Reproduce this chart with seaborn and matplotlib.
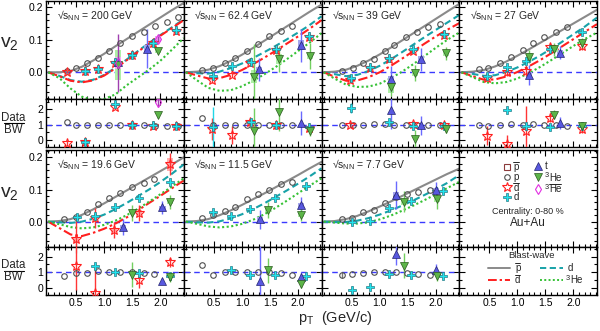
import numpy as np
import matplotlib
matplotlib.use("Agg")
import matplotlib.pyplot as plt
import seaborn as sns
from matplotlib.lines import Line2D
from matplotlib.patches import Rectangle
from matplotlib.ticker import MultipleLocator, FixedLocator, FormatStrFormatter

nan = float("nan")

# ------------------------------------------------------------------ data
ENERGIES = ["200", "62.4", "39", "27", "19.6", "11.5", "7.7"]
BW_PT = [0, 0.2, 0.4, 0.6, 0.8, 1.0, 1.2, 1.4, 1.6, 1.8, 2.0, 2.2, 2.42]

# --- 200 GeV
P_PT_200 = [0.34, 0.50, 0.69, 0.89, 1.09, 1.29, 1.50, 1.71, 1.91, 2.12, 2.32]
P_V2_200 = [0.003, 0.013, 0.027, 0.043, 0.064, 0.089, 0.110, 0.125, 0.143, 0.156, 0.169]
P_R_200 = [1.2, 0.98, 1.0, 1.0, 1.0, 1.0, 0.98, 0.96, 0.93, 0.92, 0.92]
DB_PT_200 = [0.34, 0.65, 0.89, 1.20, 1.50, 1.87, 2.28]
DB_V2_200 = [0.002, 0.003, 0.010, 0.030, 0.053, 0.089, 0.128]
DB_E_200 = [0.004, 0.004, 0.004, 0.005, 0.005, 0.006, 0.008]
DB_R_200 = [-0.22, -0.16, nan, 2.15, 0.98, 0.93, 0.92]
DB_RE_200 = [0.2, 0.1, nan, 0.15, 0.06, 0.06, 0.06]
D_PT_200 = [0.65, 0.89, 1.20, 1.50, 1.87, 2.28]
D_V2_200 = [0.004, 0.011, 0.032, 0.054, 0.090, 0.130]
D_E_200 = [0.003, 0.003, 0.003, 0.003, 0.004, 0.005]
D_R_200 = [-0.14, nan, 2.35, 1.0, 0.95, 0.94]
D_RE_200 = [0.1, nan, 0.12, 0.05, 0.05, 0.05]
T_PT_200 = [1.24, 1.76]
T_V2_200 = [0.033, 0.072]
T_E_200 = [0.015, 0.06]
T_S_200 = [0.015, 0.012]
T_R_200 = [nan, nan]
HE_PT_200 = [1.24, 1.96]
HE_V2_200 = [0.022, 0.066]
HE_E_200 = [0.03, 0.008]
HE_S_200 = [0.045, 0.006]
HE_R_200 = [nan, 1.6]
HE_RE_200 = [nan, 0.2]
HB_PT_200 = [1.24, 1.96]
HB_V2_200 = [0.028, 0.102]
HB_E_200 = [0.09, 0.008]
HB_S_200 = [0.018, 0.008]
HB_R_200 = [nan, 2.5]
HB_RE_200 = [nan, 0.35]
BW_P_200 = [0, 0.0, 0.004, 0.017, 0.036, 0.057, 0.08, 0.102, 0.124, 0.146, 0.168, 0.19, 0.213]
BW_D_200 = [0, -0.011, -0.024, -0.029, -0.023, -0.008, 0.014, 0.039, 0.065, 0.09, 0.114, 0.137, 0.163]
BW_DB_200 = [0, -0.012, -0.026, -0.031, -0.025, -0.01, 0.012, 0.037, 0.063, 0.088, 0.112, 0.135, 0.16]
BW_HE_200 = [0, -0.018, -0.05, -0.075, -0.085, -0.082, -0.068, -0.04, -0.016, 0.008, 0.035, 0.068, 0.105]

# --- 62.4 GeV
P_PT_62 = [0.29, 0.48, 0.69, 0.88, 1.09, 1.28, 1.49, 1.69, 1.89]
P_V2_62 = [0.007, 0.013, 0.027, 0.045, 0.064, 0.088, 0.110, 0.128, 0.143]
P_R_62 = [1.44, 1.0, 1.0, 1.0, 1.0, 1.0, 1.0, 1.0, 0.99]
DB_PT_62 = [0.47, 0.82, 1.15, 1.60, 2.19]
DB_V2_62 = [-0.024, -0.008, 0.030, 0.068, 0.108]
DB_E_62 = [0.01, 0.008, 0.006, 0.006, 0.008]
DB_R_62 = [0.72, 0.33, 1.15, 0.95, 0.75]
DB_RE_62 = [0.7, 0.6, 0.2, 0.1, 0.15]
D_PT_62 = [0.49, 0.82, 1.16, 1.60, 2.19]
D_V2_62 = [-0.011, 0.019, 0.032, 0.070, 0.110]
D_E_62 = [0.008, 0.005, 0.005, 0.005, 0.006]
D_R_62 = [0.82, nan, 1.2, 0.95, 0.85]
D_RE_62 = [1.3, nan, 0.15, 0.08, 0.1]
T_PT_62 = [1.30, 2.06]
T_V2_62 = [0.009, 0.083]
T_E_62 = [0.035, 0.05]
T_S_62 = [0.008, 0.015]
T_R_62 = [nan, 1.1]
T_RE_62 = [nan, 0.8]
HE_PT_62 = [1.22, 1.66, 2.22]
HE_V2_62 = [-0.013, 0.040, 0.050]
HE_E_62 = [0.1, 0.04, 0.04]
HE_S_62 = [0.02, 0.015, 0.01]
HE_R_62 = [0.6, 1.8, 0.57]
HE_RE_62 = [1.5, 1.2, 0.3]
BW_P_62 = [0, 0.002, 0.008, 0.019, 0.035, 0.054, 0.075, 0.097, 0.119, 0.141, 0.163, 0.185, 0.208]
BW_D_62 = [0, -0.003, -0.004, 0.002, 0.013, 0.027, 0.044, 0.062, 0.081, 0.101, 0.122, 0.144, 0.172]
BW_DB_62 = [0, -0.01, -0.019, -0.018, -0.008, 0.007, 0.025, 0.045, 0.066, 0.088, 0.11, 0.133, 0.16]
BW_HE_62 = [0, -0.025, -0.048, -0.057, -0.055, -0.043, -0.026, -0.006, 0.016, 0.04, 0.065, 0.09, 0.12]

# --- 39 GeV
P_PT_39 = [0.32, 0.52, 0.70, 0.89, 1.09, 1.26, 1.47, 1.67, 1.87, 2.07]
P_V2_39 = [0.005, 0.012, 0.027, 0.042, 0.064, 0.085, 0.107, 0.123, 0.139, 0.149]
P_R_39 = [1.0, 1.0, 1.0, 1.03, 1.03, 1.0, 1.0, 1.0, 0.98, 0.97]
DB_PT_39 = [0.47, 0.82, 1.16, 1.59, 2.14]
DB_V2_39 = [-0.024, 0.012, 0.040, 0.066, 0.114]
DB_E_39 = [0.008, 0.006, 0.006, 0.006, 0.008]
DB_R_39 = [1.0, nan, nan, 1.06, 0.95]
DB_RE_39 = [0.15, nan, nan, 0.1, 0.1]
D_PT_39 = [0.48, 0.83, 1.16, 1.59, 2.14]
D_V2_39 = [-0.019, 0.015, 0.043, 0.070, 0.118]
D_E_39 = [0.006, 0.004, 0.004, 0.004, 0.006]
D_R_39 = [2.09, nan, 1.15, 0.92, 0.88]
D_RE_39 = [0.35, nan, 0.1, 0.06, 0.08]
T_PT_39 = [1.20, 1.73]
T_V2_39 = [-0.022, 0.040]
T_E_39 = [0.04, 0.035]
T_S_39 = [0.01, 0.01]
T_R_39 = [1.92, 0.95]
T_RE_39 = [1.2, 0.6]
HE_PT_39 = [1.20, 1.63, 2.18]
HE_V2_39 = [-0.044, -0.002, 0.058]
HE_E_39 = [0.03, 0.025, 0.02]
HE_S_39 = [0.02, 0.008, 0.008]
HE_R_39 = [nan, 0.07, 0.72]
HE_RE_39 = [nan, 0.6, 0.3]
BW_P_39 = [0, 0.002, 0.008, 0.02, 0.036, 0.055, 0.076, 0.098, 0.12, 0.142, 0.164, 0.186, 0.21]
BW_D_39 = [0, -0.006, -0.012, -0.008, 0.004, 0.02, 0.04, 0.062, 0.085, 0.108, 0.13, 0.152, 0.176]
BW_DB_39 = [0, -0.014, -0.026, -0.025, -0.015, 0.0, 0.02, 0.042, 0.065, 0.088, 0.11, 0.13, 0.151]
BW_HE_39 = [0, -0.02, -0.038, -0.045, -0.044, -0.035, -0.018, 0.002, 0.025, 0.05, 0.075, 0.099, 0.122]

# --- 27 GeV
P_PT_27 = [0.31, 0.48, 0.69, 0.88, 1.09, 1.28, 1.48, 1.69, 1.88]
P_V2_27 = [0.010, 0.012, 0.030, 0.048, 0.068, 0.090, 0.107, 0.123, 0.138]
P_R_27 = [1.0, 0.92, 1.0, 1.03, 1.0, 1.03, 1.0, 1.0, 0.94]
DB_PT_27 = [0.46, 0.81, 1.15, 1.58, 2.16]
DB_V2_27 = [-0.018, 0.002, 0.004, 0.079, 0.080]
DB_E_27 = [0.01, 0.012, 0.015, 0.01, 0.012]
DB_R_27 = [0.28, -0.26, 0.61, 1.44, 0.72]
DB_RE_27 = [0.6, 0.6, 1.6, 0.3, 0.3]
D_PT_27 = [0.46, 0.81, 1.15, 1.58, 2.16]
D_V2_27 = [-0.011, 0.017, 0.036, 0.071, 0.123]
D_E_27 = [0.006, 0.006, 0.006, 0.006, 0.008]
D_R_27 = [nan, 1.96, 0.93, 0.87, 0.92]
D_RE_27 = [nan, 0.1, 0.1, 0.08, 0.08]
T_PT_27 = [1.20, 1.76]
T_V2_27 = [-0.008, 0.060]
T_E_27 = [0.03, 0.02]
T_S_27 = [0.008, 0.008]
T_R_27 = [nan, 1.09]
T_RE_27 = [nan, 0.4]
HE_PT_27 = [1.20, 1.66, 2.16]
HE_V2_27 = [0.048, 0.070, 0.091]
HE_E_27 = [0.02, 0.02, 0.015]
HE_S_27 = [0.012, 0.008, 0.008]
HE_R_27 = [nan, 1.65, 0.94]
HE_RE_27 = [nan, 0.3, 0.2]
BW_P_27 = [0, 0.002, 0.007, 0.018, 0.033, 0.051, 0.07, 0.09, 0.11, 0.13, 0.15, 0.17, 0.192]
BW_D_27 = [0, -0.005, -0.011, -0.009, 0.001, 0.015, 0.032, 0.051, 0.072, 0.094, 0.117, 0.14, 0.168]
BW_DB_27 = [0, -0.012, -0.023, -0.022, -0.013, 0.001, 0.018, 0.037, 0.058, 0.08, 0.102, 0.124, 0.148]
BW_HE_27 = [0, -0.015, -0.03, -0.034, -0.03, -0.019, -0.003, 0.016, 0.037, 0.059, 0.081, 0.102, 0.122]

# --- 19.6 GeV
P_PT_19 = [0.29, 0.50, 0.69, 0.89, 1.09, 1.29, 1.50, 1.71, 1.89]
P_V2_19 = [0.007, 0.016, 0.031, 0.054, 0.073, 0.090, 0.107, 0.119, 0.132]
P_R_19 = [0.75, 0.94, 0.96, 1.06, 1.04, 1.04, 0.98, 0.96, 0.85]
DB_PT_19 = [0.50, 0.84, 1.18, 1.62, 2.18]
DB_V2_19 = [-0.055, 0.011, -0.026, 0.028, 0.179]
DB_E_19 = [0.07, 0.03, 0.025, 0.025, 0.035]
DB_S_19 = [0.008, 0.006, 0.006, 0.008, 0.02]
DB_R_19 = [1.43, -0.38, nan, 0.47, 1.64]
DB_RE_19 = [1.6, 2.0, nan, 0.5, 0.3]
D_PT_19 = [0.51, 0.84, 1.19, 1.62, 2.18]
D_V2_19 = [0.013, 0.018, 0.045, 0.075, 0.124]
D_E_19 = [0.006, 0.008, 0.006, 0.006, 0.008]
D_R_19 = [nan, 1.38, 1.0, 0.95, 0.72]
D_RE_19 = [nan, 0.15, 0.1, 0.1, 0.1]
T_PT_19 = [1.34, 2.04]
T_V2_19 = [-0.016, 0.045]
T_E_19 = [0.025, 0.02]
T_S_19 = [0.005, 0.005]
T_R_19 = [nan, 0.43]
T_RE_19 = [nan, 0.2]
HE_PT_19 = [1.50, 2.18]
HE_V2_19 = [0.028, 0.062]
HE_E_19 = [0.025, 0.022]
HE_S_19 = [0.008, 0.008]
HE_R_19 = [0.83, 0.68]
HE_RE_19 = [0.8, 0.3]
BW_P_19 = [0, 0.002, 0.008, 0.021, 0.038, 0.057, 0.077, 0.097, 0.117, 0.137, 0.157, 0.177, 0.2]
BW_D_19 = [0, -0.002, -0.004, 0.0, 0.009, 0.022, 0.039, 0.058, 0.079, 0.1, 0.123, 0.148, 0.178]
BW_DB_19 = [0, -0.02, -0.04, -0.045, -0.035, -0.022, -0.006, 0.013, 0.035, 0.058, 0.08, 0.103, 0.128]
BW_HE_19 = [0, -0.008, -0.017, -0.021, -0.018, -0.01, 0.003, 0.02, 0.04, 0.062, 0.085, 0.108, 0.135]

# --- 11.5 GeV
P_PT_11 = [0.29, 0.48, 0.69, 0.88, 1.09, 1.28, 1.49, 1.69, 1.89]
P_V2_11 = [0.012, 0.021, 0.033, 0.047, 0.070, 0.085, 0.100, 0.116, 0.122]
P_R_11 = [1.47, 0.83, 1.0, 1.02, 1.04, 1.04, 1.0, 0.96, 0.83]
D_PT_11 = [0.48, 0.81, 1.15, 1.59, 2.15]
D_V2_11 = [0.031, 0.019, 0.038, 0.075, 0.111]
D_E_11 = [0.006, 0.006, 0.006, 0.006, 0.008]
D_R_11 = [nan, 1.11, 0.79, 0.83, 0.75]
D_RE_11 = [nan, 0.15, 0.1, 0.08, 0.08]
T_PT_11 = [1.32, 2.05]
T_V2_11 = [0.007, 0.052]
T_E_11 = [0.03, 0.025]
T_S_11 = [0.006, 0.005]
T_R_11 = [0.41, 0.68]
T_RE_11 = [2.5, 0.3]
HE_PT_11 = [1.46, 2.06]
HE_V2_11 = [0.036, 0.021]
HE_E_11 = [0.025, 0.02]
HE_S_11 = [0.006, 0.005]
HE_R_11 = [1.11, 0.26]
HE_RE_11 = [0.8, 0.3]
BW_P_11 = [0, 0.002, 0.008, 0.02, 0.035, 0.052, 0.07, 0.088, 0.107, 0.126, 0.145, 0.165, 0.186]
BW_D_11 = [0, -0.002, -0.003, 0.001, 0.01, 0.023, 0.039, 0.057, 0.077, 0.097, 0.118, 0.14, 0.166]
BW_HE_11 = [0, -0.007, -0.015, -0.018, -0.015, -0.007, 0.006, 0.023, 0.043, 0.065, 0.088, 0.111, 0.135]

# --- 7.7 GeV
P_PT_7 = [0.32, 0.50, 0.70, 0.89, 1.09, 1.29, 1.49, 1.69, 1.89]
P_V2_7 = [0.007, 0.010, 0.031, 0.036, 0.057, 0.076, 0.086, 0.093, 0.100]
P_R_7 = [0.83, 0.9, 0.96, 1.03, 1.03, 1.0, 0.94, 0.9, 0.79]
P_RE_7 = [0.2, 0, 0, 0, 0, 0, 0, 0, 0]
D_PT_7 = [0.50, 0.82, 1.16, 1.56, 2.13]
D_V2_7 = [0.0, 0.002, 0.042, 0.065, 0.096]
D_E_7 = [0.005, 0.005, 0.006, 0.006, 0.008]
D_R_7 = [-0.17, 0.05, 0.9, 0.84, 0.75]
D_RE_7 = [0.25, 0.1, 0.1, 0.1, 0.1]
T_PT_7 = [1.29, 2.01]
T_V2_7 = [0.083, 0.100]
T_E_7 = [0.045, 0.022]
T_S_7 = [0.01, 0.005]
T_R_7 = [2.17, 1.11]
T_RE_7 = [0.7, 0.4]
HE_PT_7 = [1.44, 2.03]
HE_V2_7 = [0.062, 0.070]
HE_E_7 = [0.033, 0.03]
HE_S_7 = [0.01, 0.008]
HE_R_7 = [1.43, 0.75]
HE_RE_7 = [0.8, 0.3]
BW_P_7 = [0, 0.002, 0.008, 0.018, 0.032, 0.047, 0.063, 0.08, 0.097, 0.114, 0.131, 0.148, 0.165]
BW_D_7 = [0, -0.001, -0.001, 0.003, 0.011, 0.022, 0.035, 0.05, 0.066, 0.083, 0.101, 0.12, 0.145]
BW_HE_7 = [0, -0.003, -0.006, -0.006, -0.002, 0.007, 0.019, 0.034, 0.05, 0.067, 0.085, 0.104, 0.124]

# (pt, v2, stat err, sys err, ratio, ratio err)
PANEL_DATA = [
    dict(p=(P_PT_200, P_V2_200, None, None, P_R_200, None),
         dbar=(DB_PT_200, DB_V2_200, DB_E_200, None, DB_R_200, DB_RE_200),
         d=(D_PT_200, D_V2_200, D_E_200, None, D_R_200, D_RE_200),
         t=(T_PT_200, T_V2_200, T_E_200, T_S_200, T_R_200, None),
         he=(HE_PT_200, HE_V2_200, HE_E_200, HE_S_200, HE_R_200, HE_RE_200),
         hebar=(HB_PT_200, HB_V2_200, HB_E_200, HB_S_200, HB_R_200, HB_RE_200)),
    dict(p=(P_PT_62, P_V2_62, None, None, P_R_62, None),
         dbar=(DB_PT_62, DB_V2_62, DB_E_62, None, DB_R_62, DB_RE_62),
         d=(D_PT_62, D_V2_62, D_E_62, None, D_R_62, D_RE_62),
         t=(T_PT_62, T_V2_62, T_E_62, T_S_62, T_R_62, T_RE_62),
         he=(HE_PT_62, HE_V2_62, HE_E_62, HE_S_62, HE_R_62, HE_RE_62)),
    dict(p=(P_PT_39, P_V2_39, None, None, P_R_39, None),
         dbar=(DB_PT_39, DB_V2_39, DB_E_39, None, DB_R_39, DB_RE_39),
         d=(D_PT_39, D_V2_39, D_E_39, None, D_R_39, D_RE_39),
         t=(T_PT_39, T_V2_39, T_E_39, T_S_39, T_R_39, T_RE_39),
         he=(HE_PT_39, HE_V2_39, HE_E_39, HE_S_39, HE_R_39, HE_RE_39)),
    dict(p=(P_PT_27, P_V2_27, None, None, P_R_27, None),
         dbar=(DB_PT_27, DB_V2_27, DB_E_27, None, DB_R_27, DB_RE_27),
         d=(D_PT_27, D_V2_27, D_E_27, None, D_R_27, D_RE_27),
         t=(T_PT_27, T_V2_27, T_E_27, T_S_27, T_R_27, T_RE_27),
         he=(HE_PT_27, HE_V2_27, HE_E_27, HE_S_27, HE_R_27, HE_RE_27)),
    dict(p=(P_PT_19, P_V2_19, None, None, P_R_19, None),
         dbar=(DB_PT_19, DB_V2_19, DB_E_19, DB_S_19, DB_R_19, DB_RE_19),
         d=(D_PT_19, D_V2_19, D_E_19, None, D_R_19, D_RE_19),
         t=(T_PT_19, T_V2_19, T_E_19, T_S_19, T_R_19, T_RE_19),
         he=(HE_PT_19, HE_V2_19, HE_E_19, HE_S_19, HE_R_19, HE_RE_19)),
    dict(p=(P_PT_11, P_V2_11, None, None, P_R_11, None),
         d=(D_PT_11, D_V2_11, D_E_11, None, D_R_11, D_RE_11),
         t=(T_PT_11, T_V2_11, T_E_11, T_S_11, T_R_11, T_RE_11),
         he=(HE_PT_11, HE_V2_11, HE_E_11, HE_S_11, HE_R_11, HE_RE_11)),
    dict(p=(P_PT_7, P_V2_7, None, None, P_R_7, P_RE_7),
         d=(D_PT_7, D_V2_7, D_E_7, None, D_R_7, D_RE_7),
         t=(T_PT_7, T_V2_7, T_E_7, T_S_7, T_R_7, T_RE_7),
         he=(HE_PT_7, HE_V2_7, HE_E_7, HE_S_7, HE_R_7, HE_RE_7)),
]
PANEL_BW = [
    dict(p=BW_P_200, d=BW_D_200, dbar=BW_DB_200, he=BW_HE_200),
    dict(p=BW_P_62, d=BW_D_62, dbar=BW_DB_62, he=BW_HE_62),
    dict(p=BW_P_39, d=BW_D_39, dbar=BW_DB_39, he=BW_HE_39),
    dict(p=BW_P_27, d=BW_D_27, dbar=BW_DB_27, he=BW_HE_27),
    dict(p=BW_P_19, d=BW_D_19, dbar=BW_DB_19, he=BW_HE_19),
    dict(p=BW_P_11, d=BW_D_11, he=BW_HE_11),
    dict(p=BW_P_7, d=BW_D_7, he=BW_HE_7),
]

# ------------------------------------------------------------------ style
sns.set_style("ticks")
plt.rcParams["font.family"] = ["Liberation Sans", "DejaVu Sans"]
plt.rcParams["mathtext.fontset"] = "custom"
plt.rcParams["mathtext.rm"] = "Liberation Sans"
plt.rcParams["mathtext.it"] = "Liberation Sans:italic"
plt.rcParams["mathtext.bf"] = "Liberation Sans:bold"

MSTY = {
    "p": dict(marker="o", ms=4.0, mfc="none", mec="#505050", mew=0.8),
    "dbar": dict(marker="*", ms=7, mfc="none", mec="#ff1f1f", mew=0.8),
    "d": dict(marker="P", ms=5.8, mfc="#20e4ee", mec="#2a7a85", mew=0.5),
    "t": dict(marker="^", ms=5.6, mfc="#5858e0", mec="#25256e", mew=0.5),
    "he": dict(marker="v", ms=5.6, mfc="#5cb548", mec="#2b5a20", mew=0.5),
    "hebar": dict(marker="d", ms=5.6, mfc="none", mec="#e22ee2", mew=0.8),
}
ECOL = {"p": "#777777", "dbar": "#ff3535", "d": "#22d6e6", "t": "#6a6aff",
        "he": "#72d060", "hebar": "#a040b0"}
BOXC = {"p": "#dddddd", "dbar": "#ffb0b0", "d": "#aaf0f0", "t": "#a6a6ee",
        "he": "#aef0a6", "hebar": "#f2a6f2"}
CURVE = {"p": ("#8a8a8a", "-"), "d": ("#17a2a8", (0, (3.2, 1.8))),
         "dbar": ("#ff1f1f", (0, (4.5, 1.5, 1.2, 1.5))), "he": ("#36c236", (0, (1, 1.2)))}
ORDER = ["p", "dbar", "d", "t", "he", "hebar"]

W, H = 600, 331
fig = plt.figure(figsize=(6, 3.31), dpi=100)

COL_X = [46, 183.75, 321.5, 459.25]
COL_W = 137.75
ROWS = [(1, 99.3, 147.3), (150, 246.7, 295)]
MAIN_YLIM = [(-0.083, 0.219), (-0.078, 0.223)]
RAT_YLIM = (-0.48, 2.65)
XLIM = (-0.04, 2.42)


def add_ax(x0, y0, x1, y1):
    return fig.add_axes([x0 / W, 1 - y1 / H, (x1 - x0) / W, (y1 - y0) / H])


def style(ax, ymaj, ymin, fmt):
    ax.set_xlim(*XLIM)
    ax.xaxis.set_major_locator(FixedLocator([0.5, 1.0, 1.5, 2.0]))
    ax.xaxis.set_minor_locator(MultipleLocator(0.1))
    ax.xaxis.set_major_formatter(FormatStrFormatter("%.1f"))
    ax.yaxis.set_major_locator(MultipleLocator(ymaj))
    ax.yaxis.set_minor_locator(MultipleLocator(ymin))
    ax.yaxis.set_major_formatter(FormatStrFormatter(fmt))
    ax.tick_params(which="both", direction="in", top=True, right=True,
                   width=0.8, labelsize=7.5, pad=2, colors="black")
    ax.tick_params(which="major", length=4)
    ax.tick_params(which="minor", length=2)
    for s in ax.spines.values():
        s.set_linewidth(1.0)
        s.set_color("black")
    ax.set_facecolor("white")


def draw(ax, sp, pt, y, err, sys_, zbase=3):
    pt = np.asarray(pt, float)
    y = np.asarray(y, float)
    if sys_ is not None:
        for xi, yi, si in zip(pt, y, sys_):
            if np.isfinite(yi) and si > 0:
                ax.add_patch(Rectangle((xi - 0.055, yi - si), 0.11, 2 * si,
                                       fc=BOXC[sp], ec="none", zorder=zbase - 1))
    if err is not None:
        ax.errorbar(pt, y, yerr=np.asarray(err, float), fmt="none",
                    ecolor=ECOL[sp], elinewidth=1.0, capsize=0, zorder=zbase)
    ax.plot(pt, y, ls="none", zorder=zbase + 1, **MSTY[sp])


for i in range(8):
    row, col = divmod(i, 4)
    top, mid, bot = ROWS[row]
    x0 = COL_X[col]
    axm = add_ax(x0, top, x0 + COL_W, mid)
    axr = add_ax(x0, mid, x0 + COL_W, bot)
    style(axm, 0.1, 0.02, "%.1f")
    style(axr, 1, 0.5, "%d")
    axm.set_ylim(*MAIN_YLIM[row])
    axr.set_ylim(*RAT_YLIM)
    axm.tick_params(labelbottom=False, labelleft=(col == 0))
    axr.tick_params(labelbottom=(row == 1), labelleft=(col == 0))
    if i == 7:
        continue

    axm.axhline(0, color="#3a3aff", lw=1.0, ls=(0, (4, 3)), zorder=1.5)
    axr.axhline(1, color="#3a3aff", lw=1.0, ls=(0, (4, 3)), zorder=1.5)

    for sp, vals in PANEL_BW[i].items():
        c, ls = CURVE[sp]
        sns.lineplot(x=BW_PT, y=vals, ax=axm, color=c, lw=1.5,
                     estimator=None, sort=False, legend=False)
        axm.lines[-1].set_linestyle(ls)
        axm.lines[-1].set_zorder(2)

    data = PANEL_DATA[i]
    for sp in ORDER:
        if sp not in data:
            continue
        pt, v2, err, sys_, r, rerr = data[sp]
        draw(axm, sp, pt, v2, err, sys_)
        draw(axr, sp, pt, r, rerr, None)

    yoff = 0.855 if row == 0 else 0.845
    axm.text(0.078, yoff, "√s$_{\\mathregular{NN}}$ = %s GeV" % ENERGIES[i],
             transform=axm.transAxes, fontsize=7.5, ha="left", va="center")
    for a in (axm, axr):
        a.set_xlabel("")
        a.set_ylabel("")

# ------------------------------------------------------------------ labels
def fx(x):
    return x / W


def fy(y):
    return 1 - y / H


def hline(xa, xb, y, color="black", lw=0.7):
    fig.add_artist(Line2D([fx(xa), fx(xb)], [fy(y), fy(y)], color=color, lw=lw,
                          transform=fig.transFigure))


for (ymain, yrat) in [(43, 123.4), (193, 271.3)]:
    fig.text(fx(9), fy(ymain), "v$_{\\mathregular{2}}$", fontsize=14,
             ha="center", va="center")
    fig.text(fx(13.5), fy(yrat - 5.8), "Data", fontsize=8.3, ha="center", va="center")
    fig.text(fx(13.5), fy(yrat + 6.2), "BW", fontsize=8.3, ha="center", va="center")
    hline(3.5, 23.5, yrat, lw=0.8)

fig.text(fx(335), fy(318), "p$_{\\mathregular{T}}$  (GeV/c)", fontsize=10.5,
         ha="center", va="center")

FS_LEG = 7


def label(xt, yc, txt, bar=False, iso=False):
    """Legend label with optional isotope superscript '3' and overline."""
    base = yc + 3.3
    x = xt
    if iso:
        fig.text(fx(x), fy(base - 3.2), "3", fontsize=5.3, ha="left", va="baseline")
        x += 4.0
    fig.text(fx(x), fy(base), txt, fontsize=FS_LEG, ha="left", va="baseline")
    if bar:
        wid = 5.4 if len(txt) == 1 else 12.2
        hline(x, x + wid, yc - 4.8, lw=0.6)


# marker legend (bottom-right main panel)
LEG_MARK = [("p", "pbar"), ("p", "p"), ("dbar", "dbar"), ("d", "d"),
            ("t", "t"), ("he", "he"), ("hebar", "hebar")]
LEG_POS = [(506.7, 166.5), (506.7, 176.7), (506.7, 187.3), (506.7, 196.7),
           (538.3, 165.7), (538.3, 177.3), (538.3, 188.6)]
LEG_TXT = ["p", "p", "d", "d", "t", "He", "He"]
LEG_BAR = [True, False, True, False, False, False, True]
LEG_ISO = [False, False, False, False, False, True, True]
for (sp, key), (px, py), txt, bar, iso in zip(LEG_MARK, LEG_POS, LEG_TXT, LEG_BAR, LEG_ISO):
    st = dict(MSTY[sp])
    if key == "pbar":
        st = dict(marker="s", ms=4.0, mfc="none", mec="#8b3a3a", mew=0.8)
    fig.add_artist(Line2D([fx(px)], [fy(py)], transform=fig.transFigure, ls="none", **st))
    label(px + 6.5, py, txt, bar, iso)

fig.text(fx(528.3), fy(211.7), "Centrality: 0-80 %", fontsize=6.5, ha="center", va="center")
fig.text(fx(528.3), fy(223.3), "Au+Au", fontsize=8.5, ha="center", va="center")

# blast-wave line legend (bottom-right ratio panel)
fig.text(fx(531.7), fy(255), "Blast-wave", fontsize=6.8, ha="center", va="center")
LINE_LEG = [("p", 487.7, 510, 267.7, "p", 515, True, False),
            ("dbar", 487.7, 510, 279.5, "d", 515, True, False),
            ("d", 540, 563.3, 267.7, "d", 567.5, False, False),
            ("he", 540, 563.3, 279.5, "He", 566, False, True)]
for sp, xa, xb, yy, txt, xt, bar, iso in LINE_LEG:
    c, ls = CURVE[sp]
    fig.add_artist(Line2D([fx(xa), fx(xb)], [fy(yy), fy(yy)], color=c, lw=1.4, ls=ls,
                          transform=fig.transFigure))
    label(xt, yy, txt, bar, iso)

fig.savefig("out.png", dpi=100)
